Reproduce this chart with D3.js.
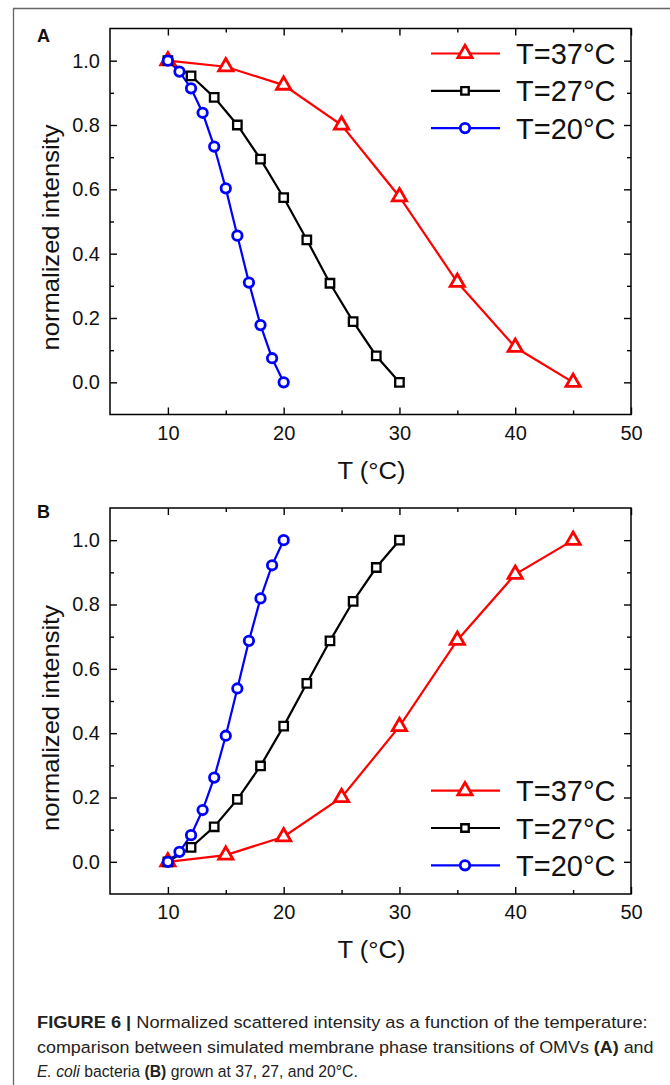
<!DOCTYPE html>
<html><head><meta charset="utf-8">
<script src="https://cdn.jsdelivr.net/npm/d3@7"></script>
<style>
html,body{margin:0;padding:0;background:#fff;}
svg{display:block;font-family:"Liberation Sans",Arial,sans-serif;}
</style></head>
<body>
<script>
// ---- data ----
const temps37 = [10, 15, 20, 25, 30, 35, 40, 45];
const temps27 = [10, 12, 14, 16, 18, 20, 22, 24, 26, 28, 30];
const temps20 = [10, 11, 12, 13, 14, 15, 16, 17, 18, 19, 20];

const omv37 = [1.0, 0.981, 0.924, 0.800, 0.577, 0.311, 0.109, 0.0];
const omv27 = [1.0, 0.953, 0.886, 0.800, 0.694, 0.574, 0.443, 0.308, 0.189, 0.082, 0.0];
const omv20 = [1.0, 0.966, 0.914, 0.838, 0.733, 0.603, 0.456, 0.310, 0.178, 0.075, 0.0];

const bac37 = [0.0, 0.021, 0.078, 0.200, 0.421, 0.689, 0.894, 1.0];
const bac27 = [0.0, 0.045, 0.109, 0.194, 0.298, 0.422, 0.555, 0.687, 0.810, 0.915, 1.0];
const bac20 = [0.0, 0.031, 0.083, 0.161, 0.262, 0.392, 0.539, 0.687, 0.819, 0.922, 1.0];

const seriesNames = ["T=37°C", "T=27°C", "T=20°C"];
const xTickLabels = [10, 20, 30, 40, 50];
const xMinorTicks = [15, 25, 35, 45];
const yTickLabels = [0.0, 0.2, 0.4, 0.6, 0.8, 1.0];
const yMinorTicks = [0.1, 0.3, 0.5, 0.7, 0.9];
const xTitle = "T (°C)";
const yTitle = "normalized intensity";
const captionLines = [
  [{t:"FIGURE 6 | ", b:true}, {t:"Normalized scattered intensity as a function of the temperature:"}],
  [{t:"comparison between simulated membrane phase transitions of OMVs "}, {t:"(A)", b:true}, {t:" and"}],
  [{t:"E. coli", i:true}, {t:" bacteria "}, {t:"(B)", b:true}, {t:" grown at 37, 27, and 20°C."}]
];

// ---- drawing ----
const W = 670, H = 1085;
const svg = d3.select("body").append("svg").attr("width", W).attr("height", H);

// outer frame
svg.append("line").attr("x1", 13).attr("x2", W).attr("y1", 8.5).attr("y2", 8.5)
  .attr("stroke", "#666").attr("stroke-width", 1.3);
svg.append("line").attr("x1", 13.5).attr("x2", 13.5).attr("y1", 8).attr("y2", H)
  .attr("stroke", "#666").attr("stroke-width", 1.3);

const colors = ["#ff0000", "#000000", "#0000ff"];
const symbols = [d3.symbolTriangle, d3.symbolSquare, d3.symbolCircle];
const symSizes = [88, 72, 70];
const symStroke = [2.8, 2.3, 2.8];

const x = d3.scaleLinear().domain([5, 50]).range([110, 631]);

function panel(opts) {
  const y = d3.scaleLinear().domain([-0.1, 1.1]).range([opts.bottom, opts.top]);
  const g = svg.append("g");

  // plot box
  g.append("rect").attr("x", x.range()[0]).attr("y", opts.top)
    .attr("width", x.range()[1] - x.range()[0]).attr("height", opts.bottom - opts.top)
    .attr("fill", "none").attr("stroke", "#000").attr("stroke-width", 1.5);

  const styleAxis = sel => {
    sel.select(".domain").remove();
    sel.selectAll("line").attr("stroke", "#000").attr("stroke-width", 1.4);
    sel.selectAll("text").attr("fill", "#111").attr("font-size", 20)
      .attr("font-family", "Liberation Sans, Arial, sans-serif");
  };

  // major ticks with labels
  g.append("g").attr("transform", `translate(0,${opts.bottom})`)
    .call(d3.axisBottom(x).tickValues(xTickLabels).tickSize(-7).tickPadding(11).tickFormat(d3.format("d")))
    .call(styleAxis);
  g.append("g").attr("transform", `translate(${x.range()[0]},0)`)
    .call(d3.axisLeft(y).tickValues(yTickLabels).tickSize(-7).tickPadding(10).tickFormat(d3.format(".1f")))
    .call(styleAxis);
  g.append("g").attr("transform", `translate(0,${opts.top})`)
    .call(d3.axisTop(x).tickValues(xTickLabels).tickSize(-7).tickFormat(""))
    .call(styleAxis);
  g.append("g").attr("transform", `translate(${x.range()[1]},0)`)
    .call(d3.axisRight(y).tickValues(yTickLabels).tickSize(-7).tickFormat(""))
    .call(styleAxis);
  // minor ticks
  g.append("g").attr("transform", `translate(0,${opts.bottom})`)
    .call(d3.axisBottom(x).tickValues(xMinorTicks).tickSize(-4).tickFormat("")).call(styleAxis);
  g.append("g").attr("transform", `translate(0,${opts.top})`)
    .call(d3.axisTop(x).tickValues(xMinorTicks).tickSize(-4).tickFormat("")).call(styleAxis);
  g.append("g").attr("transform", `translate(${x.range()[0]},0)`)
    .call(d3.axisLeft(y).tickValues(yMinorTicks).tickSize(-4).tickFormat("")).call(styleAxis);
  g.append("g").attr("transform", `translate(${x.range()[1]},0)`)
    .call(d3.axisRight(y).tickValues(yMinorTicks).tickSize(-4).tickFormat("")).call(styleAxis);

  // axis titles
  g.append("text").attr("x", 371.5).attr("y", opts.bottom + 64)
    .attr("text-anchor", "middle").attr("font-size", 23).attr("fill", "#111")
    .attr("textLength", 68).attr("lengthAdjust", "spacingAndGlyphs").text(xTitle);
  g.append("text").attr("transform", `translate(59,${opts.ytitleY}) rotate(-90)`)
    .attr("text-anchor", "middle").attr("font-size", 24.5).attr("fill", "#111")
    .attr("textLength", 226).attr("lengthAdjust", "spacingAndGlyphs").text(yTitle);

  // panel letter
  g.append("text").attr("x", 37).attr("y", opts.top + opts.letterDy)
    .attr("font-size", 18).attr("font-weight", "bold").attr("fill", "#111").text(opts.letter);

  // series
  const line = d3.line().x(d => x(d[0])).y(d => y(d[1]));
  opts.series.forEach((s, i) => {
    const pts = s.xs.map((v, k) => [v, s.ys[k]]);
    g.append("path").datum(pts).attr("d", line).attr("fill", "none")
      .attr("stroke", colors[i]).attr("stroke-width", 2.2);
  });
  opts.series.forEach((s, i) => {
    const pts = s.xs.map((v, k) => [v, s.ys[k]]);
    g.selectAll(null).data(pts).join("path")
      .attr("transform", d => `translate(${x(d[0])},${y(d[1])})`)
      .attr("d", d3.symbol().type(symbols[i]).size(symSizes[i]))
      .attr("fill", "#fff").attr("stroke", colors[i]).attr("stroke-width", symStroke[i]);
  });

  // legend
  seriesNames.forEach((name, i) => {
    const ly = opts.legendY + i * 37.3;
    const lg = g.append("g");
    lg.append("line").attr("x1", 431).attr("x2", 500).attr("y1", ly).attr("y2", ly)
      .attr("stroke", colors[i]).attr("stroke-width", 2.2);
    lg.append("path").attr("transform", `translate(465,${ly})`)
      .attr("d", d3.symbol().type(symbols[i]).size(i === 1 ? 56 : symSizes[i]))
      .attr("fill", "#fff").attr("stroke", colors[i]).attr("stroke-width", symStroke[i]);
    lg.append("text").attr("x", 516).attr("y", ly + 10.5).attr("font-size", 29)
      .attr("fill", "#111").text(name);
  });
}

panel({
  top: 28.5, bottom: 414.5, letter: "A", letterDy: 13.5, ytitleY: 237.5, legendY: 53.5,
  series: [{xs: temps37, ys: omv37}, {xs: temps27, ys: omv27}, {xs: temps20, ys: omv20}]
});
panel({
  top: 508, bottom: 894, letter: "B", letterDy: 10, ytitleY: 718, legendY: 790.7,
  series: [{xs: temps37, ys: bac37}, {xs: temps27, ys: bac27}, {xs: temps20, ys: bac20}]
});

// caption (each line scaled horizontally as a whole to the reference width)
const capBase = [1028, 1053, 1077];
const capWidths = [611, 617, 321];
captionLines.forEach((parts, li) => {
  const t = svg.append("text").attr("x", 0).attr("y", 0)
    .attr("font-size", 16.5).attr("fill", "#222");
  parts.forEach(p => {
    t.append("tspan").attr("font-weight", p.b ? "bold" : null)
      .attr("font-style", p.i ? "italic" : null).text(p.t);
  });
  const w = t.node().getComputedTextLength();
  const k = w > 0 ? capWidths[li] / w : 1;
  t.attr("transform", `translate(37,${capBase[li]}) scale(${k},1)`);
});
</script>
</body></html>
